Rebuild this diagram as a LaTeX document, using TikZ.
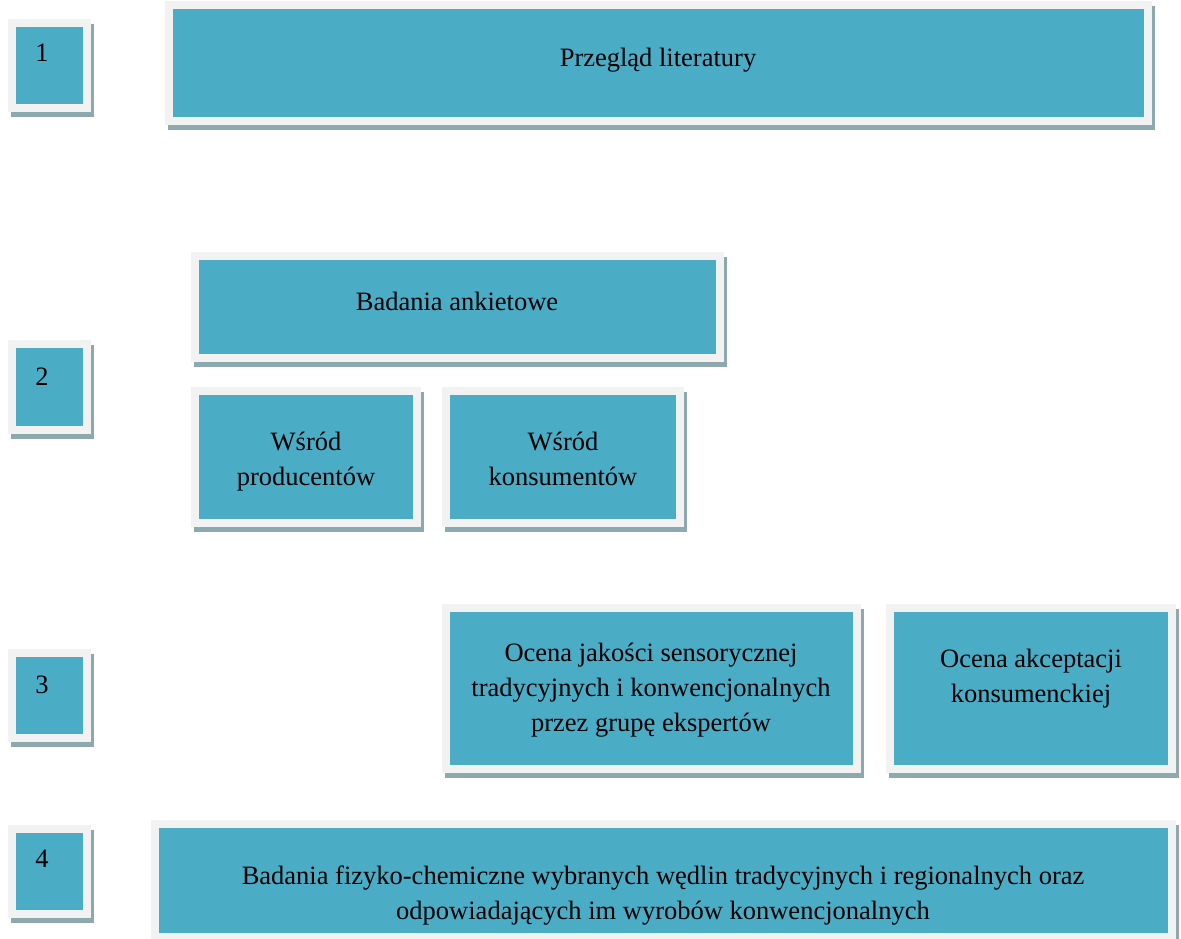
\documentclass[tikz,border=0pt]{standalone}
\usepackage{fontspec}
\setmainfont{Liberation Serif}
\definecolor{teal}{RGB}{75,172,198}
\definecolor{framec}{RGB}{242,242,242}
\definecolor{shadowc}{RGB}{141,169,176}
\tikzset{
  panel/.style={draw=framec, fill=teal, line width=8pt, inner sep=0pt, outer sep=0pt,
    preaction={draw=shadowc, fill=shadowc, line width=8pt, transform canvas={shift={(3pt,-5pt)}}}},
  label/.style={align=center, inner sep=0pt, font=\fontsize{26.5}{35}\selectfont}
}
% \panelbox{name}{x1}{y1}{x2}{y2}: inner teal area
\newcommand{\panelbox}[5]{%
  \pgfmathsetmacro{\pw}{#4-#2+8}\pgfmathsetmacro{\ph}{#5-#3+8}%
  \node[panel, minimum width=\pw pt, minimum height=\ph pt] (#1) at ({(#2+#4)/2},{(#3+#5)/2}) {};}
\begin{document}
\begin{tikzpicture}[x=1pt,y=-1pt]
\useasboundingbox (0,0) rectangle (1181,939);
\panelbox{n1}{16}{27}{83}{104}
\panelbox{lit}{173}{9}{1144}{117}
\panelbox{n2}{16}{348}{83}{426}
\panelbox{ank}{199}{260}{716}{354}
\panelbox{prod}{199}{395}{413}{519}
\panelbox{kons}{450}{395}{676}{519}
\panelbox{n3}{16}{657}{83}{734}
\panelbox{sens}{450}{612}{853}{765}
\panelbox{akc}{894}{612}{1168}{765}
\panelbox{n4}{16}{833}{83}{910}
\panelbox{fiz}{159}{828}{1168}{933}

\node[label] (t1) at (42,53) {1};
\node[label] (t2) at (42,377) {2};
\node[label] (t3) at (42,685) {3};
\node[label] (t4) at (42,859) {4};
\node[label] (tlit) at (658,60) {Przegląd literatury};
\node[label] (tank) at (457,301) {Badania ankietowe};
\node[label] (tprod) at (306,462) {Wśród\\producentów};
\node[label] (tkons) at (563,459) {Wśród\\konsumentów};
\node[label] (tsens) at (651,690) {Ocena jakości sensorycznej\\tradycyjnych i konwencjonalnych\\przez grupę ekspertów};
\node[label] (takc) at (1031,679) {Ocena akceptacji\\konsumenckiej};
\node[label] (tfiz) at (663,896) {Badania fizyko-chemiczne wybranych wędlin tradycyjnych i regionalnych oraz\\odpowiadających im wyrobów konwencjonalnych};
\end{tikzpicture}
\end{document}
